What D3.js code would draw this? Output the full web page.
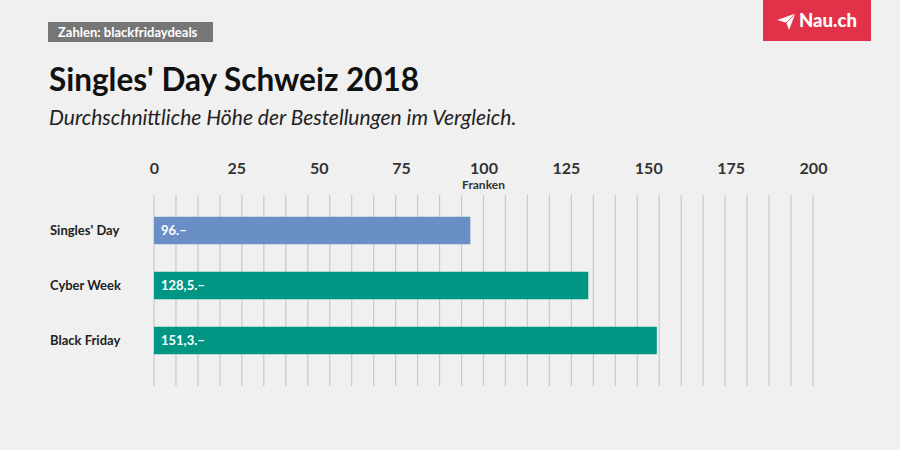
<!DOCTYPE html>
<html><head><meta charset="utf-8">
<script src="https://cdn.jsdelivr.net/npm/d3@7"></script>
<style>
html,body{margin:0;padding:0;background:#f0f0f0;}
text{font-family:Lato,"Open Sans",sans-serif;}
</style></head>
<body><svg id="c" width="900" height="450"></svg>
<script>
const categories = ["Singles' Day", "Cyber Week", "Black Friday"];
const barValues = [96, 131.8, 152.6];
const valueLabels = ["96.–", "128,5.–", "151,3.–"];
const barColors = ["#6a8fc6", "#009683", "#009683"];
const tickValues = [0, 25, 50, 75, 100, 125, 150, 175, 200];

const svg = d3.select("#c");
svg.append("rect").attr("width",900).attr("height",450).attr("fill","#f0f0f0");

const x = d3.scaleLinear().domain([0,200]).range([154,813]);
const y = d3.scaleBand().domain(categories).range([203,368]).paddingInner(0.5).paddingOuter(0.25);

// grid lines
const grid = d3.range(0, 200.001, 200/30);
svg.append("g").selectAll("line").data(grid).join("line")
  .attr("x1",d=>x(d)).attr("x2",d=>x(d)).attr("y1",195).attr("y2",386)
  .attr("stroke","#c9c9c9").attr("stroke-width",1.2);

// axis
const axis = d3.axisTop(x).tickValues(tickValues).tickSize(0).tickPadding(0);
const ag = svg.append("g").attr("transform","translate(0,174)").call(axis);
ag.select(".domain").remove();
ag.selectAll("text").attr("font-size",16).attr("font-weight",700).attr("fill","#333")
  .attr("font-family","Lato,sans-serif").attr("dy",0);
svg.append("text").attr("x",x(100)).attr("y",189).attr("text-anchor","middle")
  .attr("font-size",12).attr("font-weight",700).attr("fill","#333").text("Franken");

// bars
const bars = svg.append("g");
bars.selectAll("rect").data(categories).join("rect")
  .attr("x",x(0)).attr("y",d=>y(d)).attr("height",y.bandwidth())
  .attr("width",(d,i)=>x(barValues[i])-x(0)).attr("fill",(d,i)=>barColors[i]);
bars.selectAll("text.v").data(categories).join("text").attr("class","v")
  .attr("x",x(0)+7).attr("y",d=>y(d)+y.bandwidth()/2).attr("dy","0.35em")
  .attr("font-size",13).attr("font-weight",700).attr("fill","#fff")
  .text((d,i)=>valueLabels[i]);
bars.selectAll("text.c").data(categories).join("text").attr("class","c")
  .attr("x",50).attr("y",d=>y(d)+y.bandwidth()/2).attr("dy","0.35em")
  .attr("font-size",13).attr("font-weight",700).attr("fill","#222")
  .text(d=>d);

// source box
svg.append("rect").attr("x",48).attr("y",22).attr("width",165).attr("height",20).attr("fill","#767676");
svg.append("text").attr("x",58).attr("y",37).attr("font-size",13).attr("font-weight",700)
  .attr("fill","#fff").text("Zahlen: blackfridaydeals");

// title
svg.append("text").attr("x",49).attr("y",91).attr("font-size",31.5).attr("font-weight",700)
  .attr("fill","#111").text("Singles' Day Schweiz 2018");
svg.append("text").attr("x",49).attr("y",125).attr("font-size",21).attr("font-style","italic")
  .attr("fill","#222").text("Durchschnittliche Höhe der Bestellungen im Vergleich.");

// logo
svg.append("rect").attr("x",763).attr("y",0).attr("width",108).attr("height",41).attr("fill","#e2324a");
svg.append("path").attr("d","M776,20 L796,13 L789,31 L786,23 Z M786,23 L796,13").attr("fill","#fff")
  .attr("stroke","#e2324a").attr("stroke-width",0.8);
svg.append("text").attr("x",799).attr("y",27).attr("font-size",18.5).attr("font-weight",900)
  .attr("fill","#fff").text("Nau.ch");
</script></body></html>
